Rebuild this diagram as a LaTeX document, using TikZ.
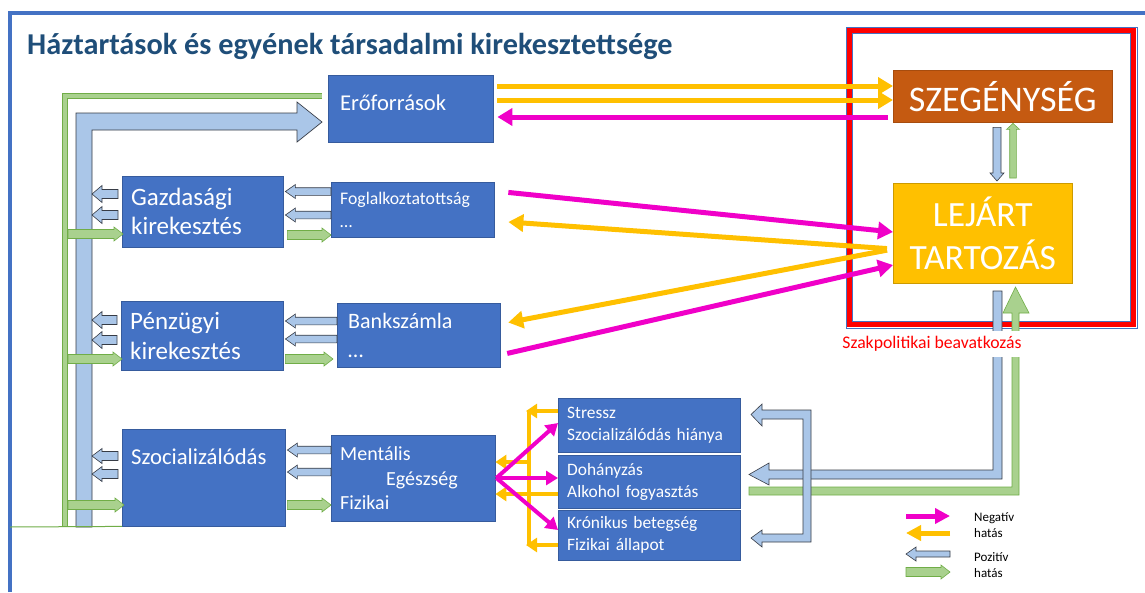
\documentclass[tikz,border=0pt]{standalone}
\usepackage{fontspec}
\setmainfont{Carlito}
\usetikzlibrary{arrows.meta,calc,positioning}
\definecolor{boxblue}{RGB}{68,114,196}
\definecolor{titleblue}{RGB}{31,78,121}
\definecolor{povbrown}{RGB}{197,90,17}
\definecolor{debtgold}{RGB}{255,192,0}
\definecolor{negmag}{RGB}{240,0,200}
\definecolor{posblue}{RGB}{170,198,232}
\definecolor{posedge}{RGB}{55,60,70}
\definecolor{posgreen}{RGB}{169,209,142}
\definecolor{greenedge}{RGB}{112,173,71}
\definecolor{policyred}{RGB}{255,0,0}

\newcommand{\fsz}[2]{\fontsize{#1}{#2}\selectfont}
% block arrow, horizontal: style, tail, tip, y
\newcommand{\blkh}[4]{%
  \draw[#1] let \p1=(#2), \p2=(#3), \p3=(0,#4), \n1={(\x1>\x2)*2-1} in
    (\x1,\y3+\bsw) -- (\x2+\n1*\bhl,\y3+\bsw) -- (\x2+\n1*\bhl,\y3+\bhw)
    -- (\x2,\y3) -- (\x2+\n1*\bhl,\y3-\bhw) -- (\x2+\n1*\bhl,\y3-\bsw)
    -- (\x1,\y3-\bsw) -- cycle;}
% block arrow, vertical: style, tail, tip, x
\newcommand{\blkv}[4]{%
  \draw[#1] let \p1=(#2), \p2=(#3), \p3=(#4,0), \n1={(\y1>\y2)*2-1} in
    (\x3+\bsw,\y1) -- (\x3+\bsw,\y2+\n1*\bhl) -- (\x3+\bhw,\y2+\n1*\bhl)
    -- (\x3,\y2) -- (\x3-\bhw,\y2+\n1*\bhl) -- (\x3-\bsw,\y2+\n1*\bhl)
    -- (\x3-\bsw,\y1) -- cycle;}

\tikzset{
  smlblue/.style={fill=posblue, draw=posedge, line width=0.6pt,
                  /utils/exec={\def\bsw{4.5pt}\def\bhw{8.5pt}\def\bhl{10pt}}},
  smlbluet/.style={fill=posblue, draw=posedge, line width=0.6pt,
                  /utils/exec={\def\bsw{3.8pt}\def\bhw{7pt}\def\bhl{10pt}}},
  smlgreen/.style={fill=posgreen, draw=greenedge, line width=0.6pt,
                  /utils/exec={\def\bsw{4.5pt}\def\bhw{7pt}\def\bhl{9pt}}},
  vblue/.style={fill=posblue, draw=posedge, line width=0.6pt,
                  /utils/exec={\def\bsw{4pt}\def\bhw{7pt}\def\bhl{8pt}}},
  vgreen/.style={fill=posgreen, draw=greenedge, line width=0.6pt,
                  /utils/exec={\def\bsw{3.3pt}\def\bhw{6.5pt}\def\bhl{6pt}}},
}

\begin{document}
\begin{tikzpicture}[x=1pt, y=-1pt,
  bx/.style={rectangle, anchor=north west, fill=boxblue, draw=boxblue!80!black,
             line width=0.4pt, text=white, align=left, inner xsep=9pt, inner ysep=0pt},
  neg/.style={draw=negmag, line width=5pt, -{Triangle[length=15pt,width=17pt]}},
  yel/.style={draw=debtgold, line width=5pt, -{Triangle[length=15pt,width=17pt]}},
  negs/.style={draw=negmag, line width=4pt, -{Triangle[length=12pt,width=14pt]}},
  yels/.style={draw=debtgold, line width=4pt, -{Triangle[length=11pt,width=14pt]}},
]
\useasboundingbox (0,0) rectangle (1145,592);
\fill[white] (0,0) rectangle (1145,592);

% frame and title
\draw[boxblue, line width=4pt] (10,592) -- (10,13) -- (1145,13);
\node[anchor=west, inner sep=0pt, font=\bfseries\fsz{30.3}{35}, text=titleblue] (title)
    at (27,46) {Háztartások és egyének társadalmi kirekesztettsége};

% policy frame
\draw[boxblue, line width=0.8pt] (846,27) rectangle (1137,328);
\draw[policyred, line width=5pt] (849.5,30.5) rectangle (1133.5,324.5);
\draw[boxblue, line width=0.8pt] (852.5,33.5) rectangle (1130.5,321.5);

% trunks on the left
\coordinate (trunk) at (92,300);
\coordinate (gline) at (68,300);
\draw[greenedge, line width=0.6pt, double=posgreen, double distance=4.8pt]
    (65,527) -- (65,96) -- (322,96);
\draw[posedge, fill=posblue, line width=0.7pt]
    (76,527) -- (76,113) -- (297,113) -- (297,102) -- (322,122)
    -- (297,142) -- (297,130) -- (92,130) -- (92,527) -- cycle;

% boxes
\node[bx, text width=141pt, inner xsep=12pt, minimum height=67pt, font=\fsz{22.6}{26},
      text height=14pt, text depth=11pt]
    (ero) at (328,75) {Erőforrások};
\node[bx, fill=povbrown, draw=povbrown!85!black, align=center, text width=203pt,
      inner xsep=8pt, minimum height=52pt, font=\fsz{36}{40}]
    (szeg) at (893,70) {SZEGÉNYSÉG};
\node[bx, fill=debtgold, draw=debtgold!80!black, align=center, text width=163pt,
      inner xsep=8pt, minimum height=100pt, font=\fsz{35.5}{43}]
    (lej) at (893,183) {LEJÁRT\\TARTOZÁS};
\node[bx, text width=143pt, minimum height=71pt, font=\fsz{25}{29}]
    (gaz) at (122,176) {Gazdasági\\kirekesztés};
\node[bx, text width=145pt, minimum height=55pt, font=\fsz{17.7}{23}]
    (fog) at (331,182) {Foglalkoztatottság\\…};
\node[bx, text width=144pt, minimum height=69pt, font=\fsz{25}{30}]
    (pen) at (121,301) {Pénzügyi\\kirekesztés};
\node[bx, text width=141pt, inner xsep=11pt, minimum height=64pt, font=\fsz{22}{29}]
    (bank) at (337,303) {Bankszámla\\…};
\node[bx, text width=145pt, minimum height=97pt, font=\fsz{22.7}{26},
      text height=16pt, text depth=43pt]
    (szoc) at (122,429) {Szocializálódás};
\node[bx, text width=146pt, minimum height=86pt, font=\fsz{20}{24.5}]
    (ment) at (331,435) {Mentális\\\hspace*{46pt}Egészség\\Fizikai};
\node[bx, text width=164pt, minimum height=54pt, font=\fsz{17.4}{22}]
    (stress) at (558,398) {Stressz\\Szocializálódás hiánya};
\node[bx, text width=164pt, minimum height=53pt, font=\fsz{17.4}{22}]
    (doh) at (558,455) {Dohányzás\\Alkohol fogyasztás};
\node[bx, text width=164pt, minimum height=50pt, font=\fsz{17.4}{22}]
    (kron) at (558,510) {Krónikus betegség\\Fizikai állapot};

\draw[greenedge, line width=1pt] (10,527) -- (szoc.south west);

% positive effects, left side
\blkh{smlblue}{[xshift=-4pt]gaz.west}{trunk}{194}
\blkh{smlblue}{[xshift=-4pt]gaz.west}{trunk}{215}
\blkh{smlgreen}{gline}{[xshift=1pt]gaz.west}{234}
\blkh{smlbluet}{fog.west}{[xshift=2pt]gaz.east}{191.5}
\blkh{smlbluet}{fog.west}{[xshift=2pt]gaz.east}{215}
\blkh{smlgreen}{[xshift=4pt]gaz.east}{fog.west}{235}

\blkh{smlblue}{[xshift=-4pt]pen.west}{trunk}{320}
\blkh{smlblue}{[xshift=-4pt]pen.west}{trunk}{340}
\blkh{smlgreen}{gline}{[xshift=1pt]pen.west}{359}
\blkh{smlbluet}{bank.west}{[xshift=2pt]pen.east}{321}
\blkh{smlbluet}{bank.west}{[xshift=2pt]pen.east}{339}
\blkh{smlgreen}{[xshift=2pt]pen.east}{[xshift=-4pt]bank.west}{359}

\blkh{smlblue, /utils/exec={\def\bhw{7.5pt}}}{[xshift=-4pt]szoc.west}{trunk}{456}
\blkh{smlblue, /utils/exec={\def\bhw{7.5pt}}}{[xshift=-4pt]szoc.west}{trunk}{474}
\blkh{smlgreen}{gline}{[xshift=2pt]szoc.west}{505}
\blkh{smlbluet}{ment.west}{[xshift=2pt]szoc.east}{450}
\blkh{smlbluet}{ment.west}{[xshift=2pt]szoc.east}{472}
\blkh{smlgreen}{[xshift=2pt]szoc.east}{ment.west}{505}

% poverty <-> debt
\blkv{vblue}{[yshift=-5pt]szeg.south}{[yshift=2pt]lej.north}{997}
\blkv{vgreen}{[yshift=5pt]lej.north}{[yshift=-1pt]szeg.south}{1013}

% negative effects
\draw[yel, shorten <=4pt] (ero.east |- 0,86) -- (szeg.west |- 0,86);
\draw[yel, shorten <=4pt] (ero.east |- 0,100) -- (szeg.west |- 0,100);
\draw[neg, shorten <=5pt, shorten >=4pt] (szeg.west |- 0,117) -- (ero.east |- 0,117);
\draw[neg, shorten <=14pt] (fog.east |- 0,191) -- (lej.west |- 0,232);
\draw[yel, shorten <=6pt, shorten >=14pt] (lej.west |- 0,249) -- (fog.east |- 0,221);
\draw[yel, shorten <=6pt, shorten >=8pt] (lej.west |- 0,249) -- (bank.east |- 0,324);
\draw[neg, shorten <=7pt] (bank.east |- 0,355) -- (lej.west |- 0,265);

% health fan
\coordinate (ytop) at (529,411);
\coordinate (ybot) at (529,545);
\draw[debtgold, line width=4pt] (ytop) -- (ybot);
\draw[yels] (stress.west |- ytop) -- ([xshift=-3pt]ytop);
\draw[yels] (kron.west |- ybot) -- ([xshift=-3pt]ybot);
\draw[yels] (ytop |- 0,462) -- (ment.east |- 0,462);
\draw[yels] (doh.west |- 0,494) -- (ment.east |- 0,494);
\draw[negs] ([xshift=1pt]ment.east |- 0,478) -- (stress.west |- 0,423);
\draw[negs] ([xshift=1pt]ment.east |- 0,478) -- (doh.west |- 0,478);
\draw[negs] ([xshift=1pt]ment.east |- 0,478) -- (kron.west |- 0,530);

% policy intervention
\draw[posedge, fill=posblue, line width=0.6pt]
    (993,291) -- (1002,291) -- (1002,479) -- (769,479) -- (769,485) -- (749,474.5)
    -- (769,463) -- (769,470) -- (993,470) -- cycle;
\draw[greenedge, fill=posgreen, line width=0.6pt]
    (749,487) -- (1012,487) -- (1012,313) -- (1003,313) -- (1015.5,287) -- (1029,313)
    -- (1019,313) -- (1019,495) -- (749,495) -- cycle;
\draw[posedge, fill=posblue, line width=0.6pt]
    (762,410) -- (811,410) -- (811,542) -- (762,542) -- (762,547) -- (751,538)
    -- (762,530) -- (762,534) -- (803,534) -- (803,419) -- (762,419) -- (762,426)
    -- (751,414.5) -- (762,404) -- cycle;
\node[fill=white, text=policyred, font=\fsz{17.7}{20}, inner xsep=2pt, inner ysep=5pt,
      text height=12pt, text depth=4pt] (pol) at (932,344) {Szakpolitikai beavatkozás};

% legend
\coordinate (lga) at (906,516);  \coordinate (lgb) at (950,516);
\coordinate (lgc) at (906,533);  \coordinate (lgd) at (950,533);
\coordinate (lge) at (906,554);  \coordinate (lgf) at (950,554);
\coordinate (lgg) at (906,572);  \coordinate (lgh) at (950,572);
\draw[neg, -{Triangle[length=15pt,width=15pt]}] (lga) -- (lgb);
\draw[yel, -{Triangle[length=15pt,width=15pt]}] (lgd) -- (lgc);
\blkh{smlblue, /utils/exec={\def\bsw{3pt}\def\bhw{7pt}}}{lgf}{lge}{554}
\blkh{smlgreen}{lgg}{lgh}{572}
\node[anchor=west, align=left, inner sep=0pt, font=\fsz{13}{16}] (lgneg)
    at (974,525) {Negatív\\hatás};
\node[anchor=west, align=left, inner sep=0pt, font=\fsz{13}{16}] (lgpos)
    at (974,565) {Pozitív\\hatás};
\end{tikzpicture}
\end{document}
